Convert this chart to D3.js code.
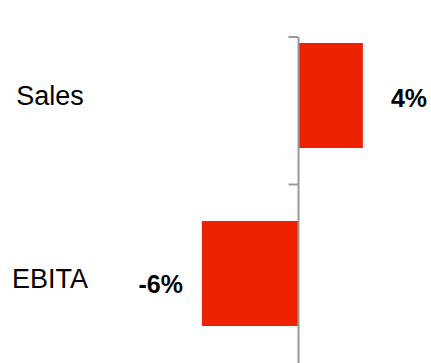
<!DOCTYPE html>
<html>
<head>
<meta charset="utf-8">
<script src="https://cdn.jsdelivr.net/npm/d3@7"></script>
<style>
  html, body { margin: 0; padding: 0; background: #fff; }
  svg { display: block; }
</style>
</head>
<body>
<svg id="chart" width="431" height="363"></svg>
<script>
const categories = ["Sales", "EBITA"];
const values = [4, -6];
const valueLabels = ["4%", "-6%"];

const svg = d3.select("#chart");
const W = 431, H = 363;
const zeroX = 298.5, pxPerUnit = 16.1;

const x = d3.scaleLinear().domain([-1, 1]).range([zeroX - pxPerUnit, zeroX + pxPerUnit]);
const y = d3.scaleBand().domain(categories).range([6.5, 362.5])
  .paddingInner(0.41).paddingOuter(0.205);

// bars
svg.selectAll("rect.bar").data(values).enter().append("rect")
  .attr("class", "bar")
  .attr("x", d => Math.min(x(0), x(d)))
  .attr("width", d => Math.abs(x(d) - x(0)))
  .attr("y", (d, i) => y(categories[i]))
  .attr("height", y.bandwidth())
  .attr("fill", "#ee2200");

// axis line and ticks
const axisTop = 37;
svg.append("line")
  .attr("x1", x(0)).attr("x2", x(0))
  .attr("y1", axisTop).attr("y2", H)
  .attr("stroke", "#999").attr("stroke-width", 2);

const tickYs = [axisTop].concat(categories.slice(1).map(c => y(c) - y.step() * y.paddingInner() / 2));
svg.selectAll("line.tick").data(tickYs).enter().append("line")
  .attr("class", "tick")
  .attr("x1", x(0) - 10).attr("x2", x(0))
  .attr("y1", d => d).attr("y2", d => d)
  .attr("stroke", "#999").attr("stroke-width", 2);

// category labels
svg.selectAll("text.cat").data(categories).enter().append("text")
  .attr("class", "cat")
  .attr("x", 50)
  .attr("y", (d, i) => y(d) + y.bandwidth() / 2 + (i === 0 ? 9.5 : 14))
  .attr("text-anchor", "middle")
  .attr("font-family", "Liberation Sans, Arial, sans-serif")
  .attr("font-size", 27)
  .attr("fill", "#000")
  .text(d => d);

// value labels
svg.selectAll("text.val").data(values).enter().append("text")
  .attr("class", "val")
  .attr("x", d => d >= 0 ? x(d) + 28 : x(d) - 19)
  .attr("y", (d, i) => y(categories[i]) + y.bandwidth() / 2 + (i === 0 ? 11.5 : 19.5))
  .attr("text-anchor", d => d >= 0 ? "start" : "end")
  .attr("font-family", "Liberation Sans, Arial, sans-serif")
  .attr("font-weight", "bold")
  .attr("font-size", 25)
  .attr("fill", "#000")
  .text((d, i) => valueLabels[i]);
</script>
</body>
</html>
